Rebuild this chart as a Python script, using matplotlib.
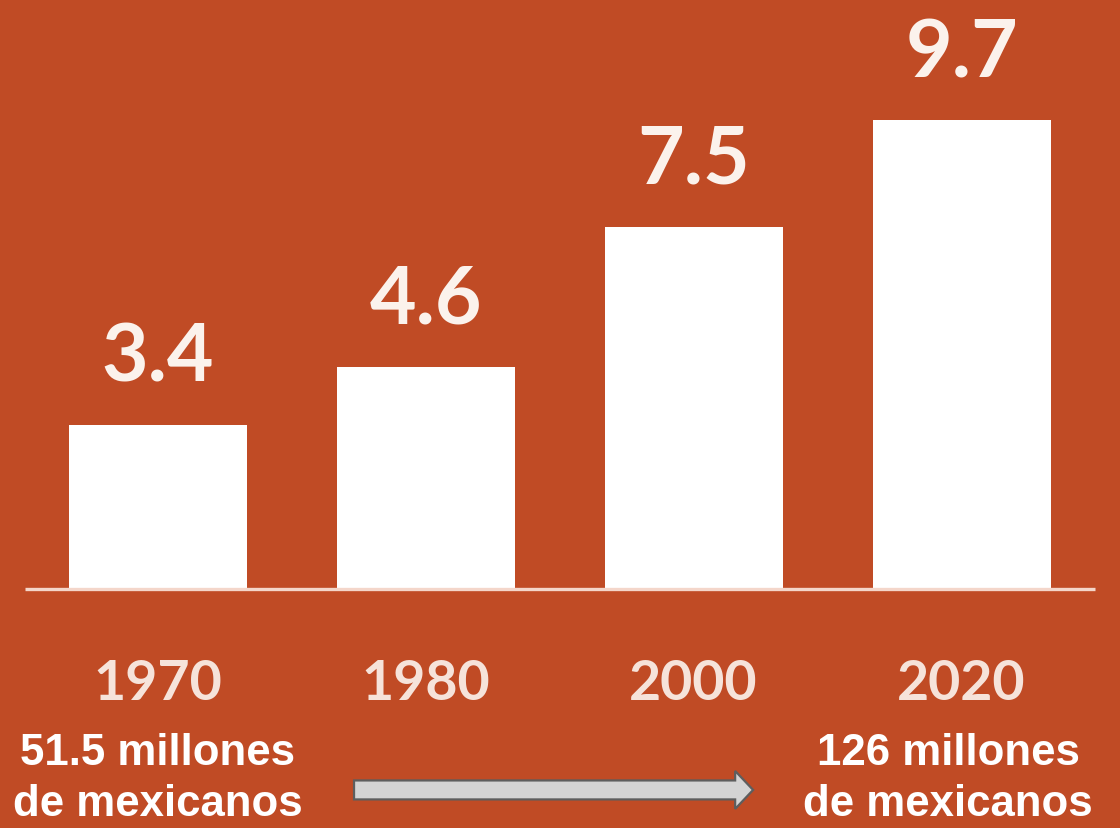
"""Bar chart: growth of the value from 1970 to 2020, with population note at the bottom."""

import numpy as np
import matplotlib.pyplot as plt
import matplotlib.patches as mpatches

# data
years = ['1970', '1980', '2000', '2020']
values = [3.4, 4.6, 7.5, 9.7]
value_labels = ['3.4', '4.6', '7.5', '9.7']
note_left = '51.5 millones\nde mexicanos'
note_right = '126 millones\nde mexicanos'

bg = '#C04B25'

fig = plt.figure(figsize=(11.2, 8.29), dpi=100)
fig.patch.set_facecolor(bg)
ax = fig.add_axes([0, 0, 1, 1])
ax.set_facecolor(bg)

x = np.arange(len(years))
ax.bar(x, values, width=0.664, color='white', zorder=2)

# baseline
ax.hlines(0, -0.494, 3.498, color='#F4D6CA', linewidth=2.4, zorder=3)

# value labels above bars
for xi, v, lab in zip(x, values, value_labels):
    ax.annotate(lab, xy=(xi, v), xytext=(0, 32), textcoords='offset points',
                ha='center', va='baseline', fontsize=58, fontweight='bold',
                family='Lato', color='#FBF2EC')

# year labels under the baseline
for xi, yr in zip(x, years):
    ax.text(xi, -2.28, yr, ha='center', va='baseline', fontsize=40,
            fontweight='bold', family='Lato', color='#F6E3DA')

# population notes (va=baseline puts the last line on y)
ax.text(0, -4.68, note_left, ha='center', va='baseline', fontsize=31.5,
        fontweight='bold', family='Liberation Sans', color='white',
        linespacing=1.32)
ax.text(2.95, -4.68, note_right, ha='center', va='baseline', fontsize=31.5,
        fontweight='bold', family='Liberation Sans', color='white',
        linespacing=1.32)

# arrow between the notes
arrow = mpatches.FancyArrow(0.733, -4.16, 2.222 - 0.733, 0, width=0.393,
                            head_width=0.787, head_length=0.067,
                            length_includes_head=True, facecolor='#D4D4D4',
                            edgecolor='#5E5E5E', linewidth=1.6, zorder=4)
ax.add_patch(arrow)

ax.set_xlim(-0.588, 3.591)
ax.set_ylim(-4.948, 12.215)
ax.axis('off')

plt.savefig('out.png', dpi=100, facecolor=bg)
